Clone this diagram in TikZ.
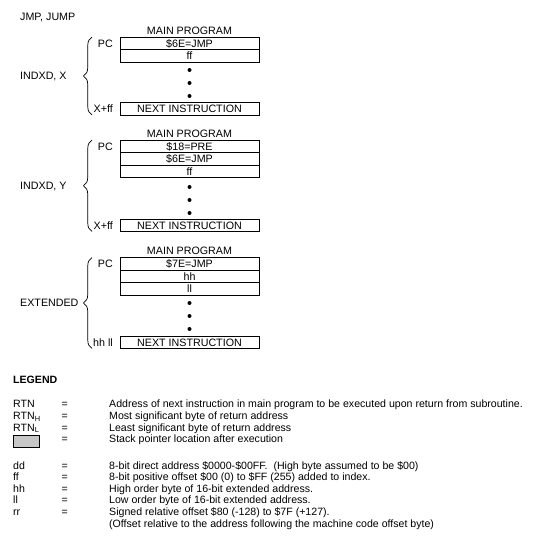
\documentclass[tikz,border=0pt]{standalone}
\usepackage{fontspec}
\setmainfont{Liberation Sans}
\usetikzlibrary{positioning,decorations.pathreplacing}

\tikzset{
  cell/.style={draw, line width=0.7pt, minimum width=139pt, minimum height=12.5pt, inner sep=0pt, outer sep=0pt, text height=7.6pt, text depth=0pt, font=\fontsize{10.7}{12}\selectfont},
  bullet/.style={circle, fill, inner sep=0pt, minimum size=4pt},
  lbl/.style={inner sep=0pt, text height=7.6pt, text depth=0pt, font=\fontsize{10.7}{12}\selectfont},
  leg/.style={inner sep=0pt, anchor=base west, font=\fontsize{10.6}{12}\selectfont},
  curly/.style={decorate, decoration={brace, amplitude=8.5pt}, line width=0.7pt}
}

\begin{document}
\begin{tikzpicture}[x=1pt,y=1pt]
    \useasboundingbox (0,0) rectangle (538,-537);

    \node[lbl, anchor=west] (jmp) at (20,-17) {JMP, JUMP};

    \node[cell] (a1) at (189.5,-43.25) {\$6E=JMP};
    \node[cell, below=0pt of a1] (a2) {ff};
    \node[lbl, above=2.5pt of a1] (mpa) {MAIN PROGRAM};
    \node[bullet] (ad1) at (189.5,-70) {};
    \node[bullet] (ad2) at (189.5,-83) {};
    \node[bullet] (ad3) at (189.5,-96) {};
    \node[cell] (a3) at (189.5,-108.75) {NEXT INSTRUCTION};
    \node[lbl, left=7pt of a1] (pca) {PC};
    \node[lbl, left=7pt of a3] (xfa) {X+ff};
    \draw[curly] ([xshift=-28pt]a3.south west) -- ([xshift=-28pt]a1.north west);
    \node[lbl, anchor=west] (ixa) at (20,-76) {INDXD, X};

    \node[cell] (b1) at (189.5,-146.25) {\$18=PRE};
    \node[cell, below=0pt of b1] (b2) {\$6E=JMP};
    \node[cell, below=0pt of b2] (b3) {ff};
    \node[lbl, above=2.5pt of b1] (mpb) {MAIN PROGRAM};
    \node[bullet] (bd1) at (189.5,-187) {};
    \node[bullet] (bd2) at (189.5,-200) {};
    \node[bullet] (bd3) at (189.5,-213) {};
    \node[cell] (b4) at (189.5,-225.25) {NEXT INSTRUCTION};
    \node[lbl, left=7pt of b1] (pcb) {PC};
    \node[lbl, left=7pt of b4] (xfb) {X+ff};
    \draw[curly] ([xshift=-28pt]b4.south west) -- ([xshift=-28pt]b1.north west);
    \node[lbl, anchor=west] (ixb) at (20,-185.75) {INDXD, Y};

    \node[cell] (c1) at (189.5,-263.75) {\$7E=JMP};
    \node[cell, below=0pt of c1] (c2) {hh};
    \node[cell, below=0pt of c2] (c3) {ll};
    \node[lbl, above=2.5pt of c1] (mpc) {MAIN PROGRAM};
    \node[bullet] (cd1) at (189.5,-303) {};
    \node[bullet] (cd2) at (189.5,-316) {};
    \node[bullet] (cd3) at (189.5,-329) {};
    \node[cell] (c4) at (189.5,-342.25) {NEXT INSTRUCTION};
    \node[lbl, left=7pt of c1] (pcc) {PC};
    \node[lbl, left=7pt of c4] (hlc) {hh ll};
    \draw[curly] ([xshift=-28pt]c4.south west) -- ([xshift=-28pt]c1.north west);
    \node[lbl, anchor=west] (ext) at (20,-302.9) {EXTENDED};

    \node[leg, font=\fontsize{10.6}{12}\selectfont\bfseries] (legend) at (13,-383.6) {LEGEND};

    \node[leg] (n1) at (13,-407.9) {RTN};
    \node[leg] (e1) at (61.5,-407.9) {=};
    \node[leg] (d1) at (109,-407.9) {Address of next instruction in main program to be executed upon return from subroutine.};
    \node[leg] (n2) at (13,-419.5) {RTN\textsubscript{H}};
    \node[leg] (e2) at (61.5,-419.5) {=};
    \node[leg] (d2) at (109,-419.5) {Most significant byte of return address};
    \node[leg] (n3) at (13,-431.1) {RTN\textsubscript{L}};
    \node[leg] (e3) at (61.5,-431.1) {=};
    \node[leg] (d3) at (109,-431.1) {Least significant byte of return address};
    \node[draw, line width=0.7pt, fill=black!22, minimum width=26pt, minimum height=12pt, inner sep=0pt] (spbox) at (26,-441) {};
    \node[leg] (e4) at (61.5,-442.7) {=};
    \node[leg] (d4) at (109,-442.7) {Stack pointer location after execution};

    \node[leg] (n5) at (13,-469.1) {dd};
    \node[leg] (e5) at (61.5,-469.1) {=};
    \node[leg] (d5) at (109,-469.1) {8-bit direct address \$0000-\$00FF.\ \ (High byte assumed to be \$00)};
    \node[leg] (n6) at (13,-480.7) {ff};
    \node[leg] (e6) at (61.5,-480.7) {=};
    \node[leg] (d6) at (109,-480.7) {8-bit positive offset \$00 (0) to \$FF (255) added to index.};
    \node[leg] (n7) at (13,-492.3) {hh};
    \node[leg] (e7) at (61.5,-492.3) {=};
    \node[leg] (d7) at (109,-492.3) {High order byte of 16-bit extended address.};
    \node[leg] (n8) at (13,-503.9) {ll};
    \node[leg] (e8) at (61.5,-503.9) {=};
    \node[leg] (d8) at (109,-503.9) {Low order byte of 16-bit extended address.};
    \node[leg] (n9) at (13,-515.5) {rr};
    \node[leg] (e9) at (61.5,-515.5) {=};
    \node[leg] (d9) at (109,-515.5) {Signed relative offset \$80 (-128) to \$7F (+127).};
    \node[leg] (d10) at (109,-527.1) {(Offset relative to the address following the machine code offset byte)};
\end{tikzpicture}
\end{document}
